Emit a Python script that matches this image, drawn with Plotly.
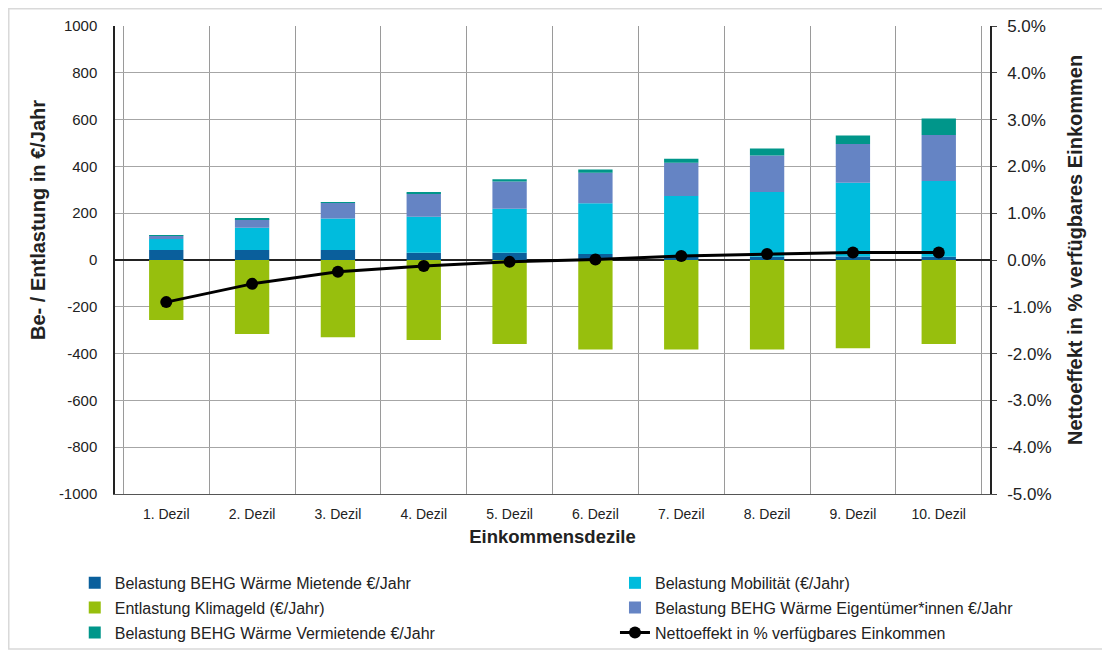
import plotly.graph_objects as go

categories = ["1. Dezil", "2. Dezil", "3. Dezil", "4. Dezil", "5. Dezil",
              "6. Dezil", "7. Dezil", "8. Dezil", "9. Dezil", "10. Dezil"]
mietende = [43, 43, 43, 31, 31, 26, 14, 14, 15, 14]
mobilitaet = [47, 95, 134, 154, 188, 216, 260, 277, 315, 324]
klimageld = [-256, -316, -330, -342, -359, -382, -382, -382, -377, -359]
eigentuemer = [14, 37, 68, 98, 117, 131, 142, 156, 166, 196]
vermietende = [1, 4, 2, 8, 9, 14, 17, 29, 36, 71]
netto = [-0.0090, -0.0051, -0.0025, -0.0013, -0.0004, 0.0001, 0.00085, 0.0013, 0.0016, 0.0016]

left_ticks = [1000, 800, 600, 400, 200, 0, -200, -400, -600, -800, -1000]
left_labels = ["1000", "800", "600", "400", "200", "0", "-200", "-400", "-600", "-800", "-1000"]
right_ticks = [0.05, 0.04, 0.03, 0.02, 0.01, 0.0, -0.01, -0.02, -0.03, -0.04, -0.05]
right_labels = ["5.0%", "4.0%", "3.0%", "2.0%", "1.0%", "0.0%", "-1.0%", "-2.0%", "-3.0%", "-4.0%", "-5.0%"]

left_title = "Be- / Entlastung in €/Jahr"
right_title = "Nettoeffekt in % verfügbares Einkommen"
x_title = "Einkommensdezile"

FONT = "Liberation Sans, Arial, sans-serif"
bar_w = 0.4

fig = go.Figure()
fig.add_trace(go.Bar(x=categories, y=mietende, name="Belastung BEHG Wärme Mietende €/Jahr",
                     marker=dict(color="#0a5f9c", line=dict(width=0)), width=bar_w, legend="legend"))
fig.add_trace(go.Bar(x=categories, y=mobilitaet, name="Belastung Mobilität (€/Jahr)",
                     marker=dict(color="#00bcdd", line=dict(width=0)), width=bar_w, legend="legend2"))
fig.add_trace(go.Bar(x=categories, y=klimageld, name="Entlastung Klimageld (€/Jahr)",
                     marker=dict(color="#97bf0d", line=dict(width=0)), width=bar_w, legend="legend3"))
fig.add_trace(go.Bar(x=categories, y=eigentuemer, name="Belastung BEHG Wärme Eigentümer*innen €/Jahr",
                     marker=dict(color="#6584c4", line=dict(width=0)), width=bar_w, legend="legend4"))
fig.add_trace(go.Bar(x=categories, y=vermietende, name="Belastung BEHG Wärme Vermietende €/Jahr",
                     marker=dict(color="#00968a", line=dict(width=0)), width=bar_w, legend="legend5"))
fig.add_trace(go.Scatter(x=categories, y=netto, name="Nettoeffekt in % verfügbares Einkommen",
                         yaxis="y2", mode="lines+markers", legend="legend6",
                         line=dict(color="black", width=3),
                         marker=dict(color="black", size=12)))

col_x = [-0.046, 0.5714]
row_y = [-0.190, -0.2425, -0.296]


def leg(x, y):
    return dict(x=x, y=y, xanchor="left", yanchor="middle", orientation="v",
                bgcolor="rgba(0,0,0,0)", font=dict(size=16, color="#222222"),
                itemwidth=30)


fig.update_layout(
    width=1110, height=652,
    barmode="relative",
    paper_bgcolor="white", plot_bgcolor="white",
    font=dict(family=FONT, size=15, color="#222222"),
    margin=dict(l=107, r=128, t=18, b=166, autoexpand=False),
    xaxis=dict(
        type="category", tickson="boundaries", showgrid=True, gridcolor="#9a9a9a", gridwidth=1,
        showline=True, linecolor="#555555", linewidth=1, ticks="", ticklen=0,
        tickfont=dict(size=14), ticklabelstandoff=7,
        title=dict(text="<b>" + x_title + "</b>", font=dict(size=18.5), standoff=9),
    ),
    yaxis=dict(
        range=[-1000, 1000], tickvals=left_ticks, ticktext=left_labels,
        showgrid=True, gridcolor="#a6a6a6", gridwidth=1,
        zeroline=True, zerolinecolor="#222222", zerolinewidth=1.5,
        showline=True, linecolor="#222222", linewidth=1.5, ticks="",
        tickfont=dict(size=15), ticklen=0, ticklabelstandoff=13,
    ),
    yaxis2=dict(
        overlaying="y", side="right", range=[-0.05, 0.05],
        tickvals=right_ticks, ticktext=right_labels,
        showgrid=False, zeroline=False, showline=True, linecolor="#222222", linewidth=1.5,
        ticks="outside", ticklen=5, tickcolor="#444444", ticklabelstandoff=7,
        tickfont=dict(size=17),
    ),
    legend=leg(col_x[0], row_y[0]),
    legend2=leg(col_x[1], row_y[0]),
    legend3=leg(col_x[0], row_y[1]),
    legend4=leg(col_x[1], row_y[1]),
    legend5=leg(col_x[0], row_y[2]),
    legend6=leg(col_x[1], row_y[2]),
    showlegend=True,
)

fig.add_annotation(text="<b>" + left_title + "</b>", xref="paper", yref="paper",
                   x=-0.088, y=0.5855, xanchor="center", yanchor="middle",
                   textangle=-90, showarrow=False, font=dict(size=20, color="#222222"))
fig.add_annotation(text="<b>" + right_title + "</b>", xref="paper", yref="paper",
                   x=1.0971, y=0.5214, xanchor="center", yanchor="middle",
                   textangle=-90, showarrow=False, font=dict(size=20, color="#222222"))

fig.add_shape(type="rect", xref="paper", yref="paper",
              x0=-0.1214, x1=1.1291, y0=-0.331, y1=1.0369,
              line=dict(color="#d9d9d9", width=1.5), fillcolor="rgba(0,0,0,0)", layer="below")

fig.write_html("out.html")
